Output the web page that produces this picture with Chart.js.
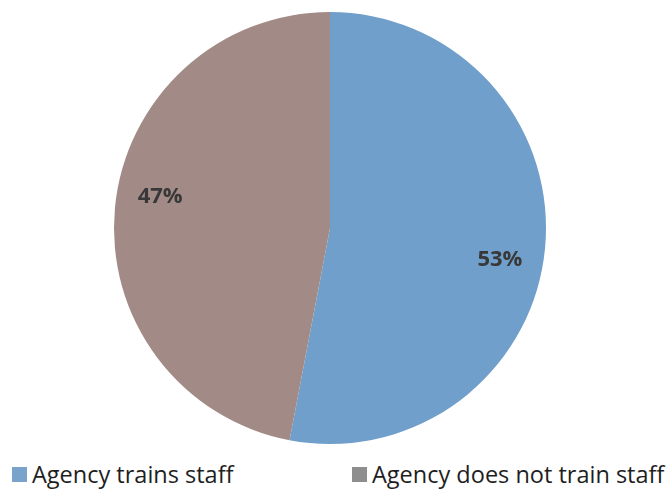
<!DOCTYPE html>
<html>
<head>
<meta charset="utf-8">
<script src="https://cdn.jsdelivr.net/npm/chart.js@4/dist/chart.umd.min.js"></script>
<style>
  body { margin: 0; background: #fff; width: 667px; height: 489px; overflow: hidden; position: relative; }
  #wrap { position: absolute; left: 0; top: 0; width: 667px; height: 450px; }
  .legend { position: absolute; top: 458px; font-family: "Open Sans", sans-serif; font-size: 23.5px; color: #1e1e1e; white-space: nowrap; line-height: 32px; }
  .legend span.box { display: inline-block; width: 15px; height: 15px; margin-right: 5px; vertical-align: 1px; }
</style>
</head>
<body>
<div id="wrap"><canvas id="pie"></canvas></div>
<div class="legend" id="leg0" style="left:12px"></div>
<div class="legend" id="leg1" style="left:352px"></div>
<script>
// Data
const categories = ['Agency trains staff', 'Agency does not train staff'];
const values = [53, 47];
const sliceColors = ['#719fcb', '#a28b86'];
const legendColors = ['#7aa3cc', '#8e8e8e'];

// --- HTML legend (spread like the original) ---
categories.forEach((name, i) => {
  const el = document.getElementById('leg' + i);
  el.innerHTML = '<span class="box" style="background:' + legendColors[i] + '"></span>' + name;
});

// --- percentage labels inside slices ---
const pctLabels = {
  id: 'pctLabels',
  afterDatasetsDraw(chart) {
    const ctx = chart.ctx;
    const meta = chart.getDatasetMeta(0);
    const total = values.reduce((a, b) => a + b, 0);
    ctx.save();
    ctx.font = 'bold 22px "Open Sans", sans-serif';
    ctx.fillStyle = '#383838';
    ctx.textAlign = 'center';
    ctx.textBaseline = 'middle';
    meta.data.forEach((arc, i) => {
      const p = arc.getProps(['x', 'y', 'startAngle', 'endAngle', 'outerRadius']);
      // labels sit a little clockwise of the slice middle, like Excel's best fit
      const mid = (p.startAngle + p.endAngle) / 2 + 0.09;
      const r = p.outerRadius * 0.8;
      const txt = Math.round(values[i] / total * 100) + '%';
      ctx.fillText(txt, p.x + Math.cos(mid) * r, p.y + Math.sin(mid) * r);
    });
    ctx.restore();
  }
};

new Chart(document.getElementById('pie'), {
  type: 'pie',
  data: {
    labels: categories,
    datasets: [{
      data: values,
      backgroundColor: sliceColors,
      borderWidth: 0
    }]
  },
  options: {
    responsive: true,
    maintainAspectRatio: false,
    animation: false,
    layout: { padding: { top: 12, bottom: 6, left: 0, right: 7 } },
    plugins: {
      legend: { display: false },
      tooltip: { enabled: false }
    }
  },
  plugins: [pctLabels]
});
</script>
</body>
</html>
